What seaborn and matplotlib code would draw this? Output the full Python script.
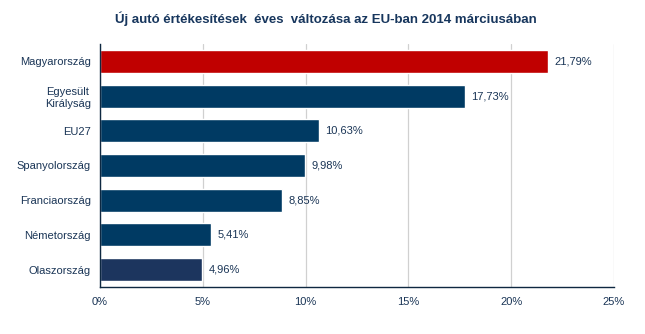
import matplotlib
matplotlib.use("Agg")
import matplotlib.pyplot as plt
import seaborn as sns
import pandas as pd

categories = ["Magyarország", "Egyesült\nKirályság", "EU27", "Spanyolország",
              "Franciaország", "Németország", "Olaszország"]
values = [21.79, 17.73, 10.63, 9.98, 8.85, 5.41, 4.96]
labels = ["21,79%", "17,73%", "10,63%", "9,98%", "8,85%", "5,41%", "4,96%"]
colors = ["#c00000", "#003a63", "#003a63", "#003a63", "#003a63", "#003a63", "#1c355e"]
xticks = [0, 5, 10, 15, 20, 25]
xticklabels = ["0%", "5%", "10%", "15%", "20%", "25%"]

sns.set_theme(style="white")
plt.rcParams['font.family'] = ['Liberation Sans', 'DejaVu Sans']

df = pd.DataFrame({"cat": categories, "val": values})
fig = plt.figure(figsize=(6.45, 3.34), dpi=100)
ax = fig.add_axes([0.155, 0.141, 0.797, 0.727])
sns.barplot(data=df, x="val", y="cat", hue="cat", palette=colors, legend=False,
            width=0.66, ax=ax, saturation=1)

text_col = "#1a3556"
for i, (v, lab) in enumerate(zip(values, labels)):
    ax.text(v + 0.33, i, lab, va="center", ha="left", fontsize=8, color=text_col)

ax.set_xlim(0, 25)
ax.set_xticks(xticks)
ax.set_xticklabels(xticklabels, fontsize=8, color=text_col)
ax.tick_params(axis="y", labelsize=8, labelcolor=text_col, length=0, pad=6.5)
ax.tick_params(axis="x", length=0, pad=7)
for lab in ax.get_yticklabels():
    lab.set_multialignment("center")
ax.set_xlabel("")
ax.set_ylabel("")
ax.grid(axis="x", color="#d0d0d0", linewidth=0.9)
ax.set_axisbelow(True)
for s in ["top", "right"]:
    ax.spines[s].set_visible(False)
for s in ["left", "bottom"]:
    ax.spines[s].set_color("#0e2841")
    ax.spines[s].set_linewidth(1.0)

fig.text(0.505, 0.945, "Új autó értékesítések  éves  változása az EU-ban 2014 márciusában",
         ha="center", va="center", fontsize=9.5, fontweight="bold", color="#17365d")

fig.savefig("out.png", dpi=100)
